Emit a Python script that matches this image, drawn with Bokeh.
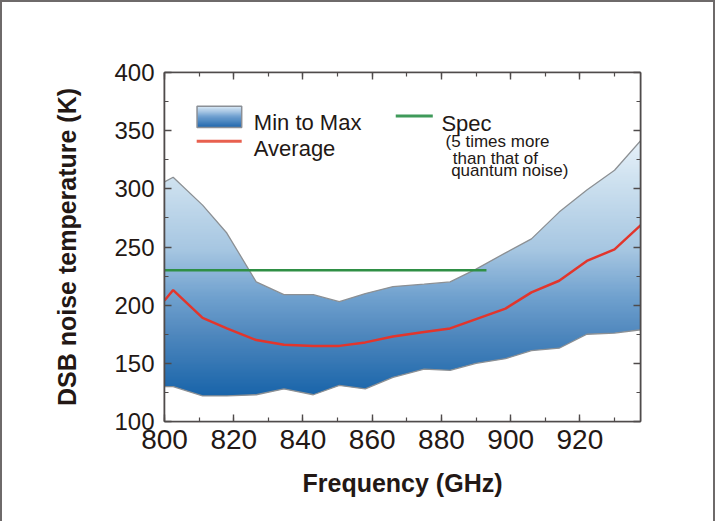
import numpy as np
from bokeh.plotting import figure
from bokeh.models import LinearAxis, SingleIntervalTicker, Range1d, CustomJSTickFormatter
from bokeh.core.properties import value
from bokeh.embed import file_html
from bokeh.resources import INLINE

# ---- data ----
freq = [800, 802.5, 811, 818, 826.5, 834.5, 843, 850.5, 858, 866, 875,
        882.5, 890, 898.5, 906, 914, 922, 930, 938]
t_max = [306, 310, 286, 262, 220, 209, 209, 203, 210, 216, 218,
         220, 231, 245, 257, 280, 299, 316, 343]
t_min = [130, 130, 122, 122, 123, 128, 123, 131, 128, 138, 145,
         144, 150, 154, 161, 163, 175, 176, 179]
t_avg = [204, 213, 189, 180, 170, 166, 165, 165, 168, 173, 177,
         180, 188, 197, 211, 221, 238, 248, 270]
spec_freq = [800, 893]
spec_val = [230, 230]

x_lo, x_hi = 800, 937.5
y_lo, y_hi = 100, 400

FONT = value("Liberation Sans")
TXT = "#231815"
AX = "#4f4b4b"

p = figure(frame_width=476, frame_height=349,
           x_range=Range1d(x_lo, x_hi), y_range=Range1d(y_lo, y_hi),
           output_backend="svg", toolbar_location=None,
           min_border_left=162, min_border_right=73,
           min_border_top=70, min_border_bottom=100,
           background_fill_color="white", border_fill_color="white")
p.grid.visible = False
p.outline_line_color = AX
p.outline_line_width = 1.6
p.styles = {"border-left": "2px solid #6e6a6a",
            "border-top": "2px solid #6e6a6a",
            "border-right": "2px solid #6e6a6a"}


def gradient(stops_k, stops_rgb, ys):
    r = np.interp(ys, stops_k, [c[0] for c in stops_rgb])
    g = np.interp(ys, stops_k, [c[1] for c in stops_rgb])
    b = np.interp(ys, stops_k, [c[2] for c in stops_rgb])
    img = np.empty((len(ys), 1), dtype=np.uint32)
    view = img.view(dtype=np.uint8).reshape((len(ys), 1, 4))
    view[:, 0, 0] = r.astype(np.uint8)
    view[:, 0, 1] = g.astype(np.uint8)
    view[:, 0, 2] = b.astype(np.uint8)
    view[:, 0, 3] = 255
    return img


# vertical colour gradient for the min-max band
ys = np.linspace(y_lo, y_hi, 301)
stops_k = [100, 124, 175, 205, 248, 308, 343, 400]
stops_rgb = [(20, 95, 168), (27, 102, 171), (80, 136, 190), (110, 160, 206),
             (167, 199, 226), (207, 226, 240), (232, 242, 250), (244, 249, 253)]
band_img = gradient(stops_k, stops_rgb, ys)
p.image_rgba(image=[band_img], x=x_lo, y=y_lo, dw=freq[-1] - x_lo,
             dh=y_hi - y_lo)
# mask outside the band
p.varea(x=freq, y1=t_max, y2=[y_hi] * len(freq), fill_color="white")
p.varea(x=freq, y1=[y_lo] * len(freq), y2=t_min, fill_color="white")
p.line(freq, t_max, line_color="#8c9094", line_width=1.3)
p.line(freq, t_min, line_color="#8c9094", line_width=1.3)

p.line(spec_freq, spec_val, line_color="#2f8f45", line_width=2.5)
p.line(freq, t_avg, line_color="#e2352c", line_width=2.5)

# ---- legend (manual) ----
sw_x0, sw_x1, sw_y0, sw_y1 = 809.4, 822.3, 352.7, 371.0
sw_ys = np.linspace(0, 1, 40)
sw_img = gradient([0, 0.5, 1], [(35, 105, 175), (110, 160, 208), (222, 236, 247)], sw_ys)
p.image_rgba(image=[sw_img], x=sw_x0, y=sw_y0, dw=sw_x1 - sw_x0, dh=sw_y1 - sw_y0)
p.quad(left=[sw_x0], right=[sw_x1], bottom=[sw_y0], top=[sw_y1],
       fill_color=None, line_color="#8a8f96", line_width=1.5)
p.line([809.3, 822.3], [341, 341], line_color="#e8604f", line_width=3)
p.line([866.8, 877.5], [362.7, 362.7], line_color="#3f9a5a", line_width=3)

p.text(x=[825.8, 825.8, 880.0], y=[357.3, 334.7, 356.4],
       text=["Min to Max", "Average", "Spec"],
       text_font=FONT, text_font_size="22px", text_color=TXT,
       text_baseline="alphabetic")
p.text(x=[881.2, 883.3, 882.8], y=[340.7, 326.4, 315.5],
       text=["(5 times more", "than that of", "quantum noise)"],
       text_font=FONT, text_font_size="17px", text_color=TXT,
       text_baseline="alphabetic")

# ---- axes ----
xt = SingleIntervalTicker(interval=20, num_minor_ticks=2)
yt = SingleIntervalTicker(interval=50, num_minor_ticks=2)
p.xaxis.ticker = xt
p.yaxis.ticker = yt
p.xaxis.axis_label = "Frequency (GHz)"
p.yaxis.axis_label = "DSB noise temperature (K)"

blank = CustomJSTickFormatter(code="return ''")
p.add_layout(LinearAxis(ticker=xt, formatter=blank), "above")
p.add_layout(LinearAxis(ticker=yt, formatter=blank), "right")

for ax in p.axis:
    ax.axis_line_color = AX
    ax.axis_line_width = 1.6
    ax.major_tick_line_color = AX
    ax.minor_tick_line_color = AX
    ax.major_tick_line_width = 1.4
    ax.minor_tick_line_width = 1.2
    ax.major_tick_in = 7
    ax.major_tick_out = 0
    ax.minor_tick_in = 4
    ax.minor_tick_out = 0
    ax.major_label_text_font = "Liberation Sans"
    ax.major_label_text_font_size = "24px"
    ax.major_label_text_color = TXT
    ax.axis_label_text_font = "Liberation Sans"
    ax.axis_label_text_font_style = "bold"
    ax.axis_label_text_font_size = "25px"
    ax.axis_label_text_color = TXT

for ax in p.above + p.right:
    ax.major_label_standoff = 0

bottom_ax = p.below[0]
left_ax = p.left[0]
bottom_ax.major_label_text_font_size = "28px"
bottom_ax.major_label_standoff = 8
bottom_ax.axis_label_standoff = 17
left_ax.major_label_standoff = 10
left_ax.axis_label_standoff = 30

open("out.html", "w").write(file_html(p, INLINE))
